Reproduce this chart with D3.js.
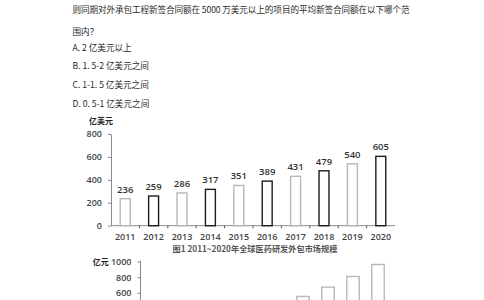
<!DOCTYPE html>
<html>
<head>
<meta charset="utf-8">
<script src="https://cdn.jsdelivr.net/npm/d3@7"></script>
<style>
  body { margin: 0; background: #fff; }
  svg { display: block; }
</style>
</head>
<body>
<div id="chart"></div>
<script>
// question text above the charts
const questionLines = [
    '则同期对外承包工程新签合同额在 5000 万美元以上的项目的平均新签合同额在以下哪个范',
    '围内？',
    'A. 2 亿美元以上',
    'B. 1. 5-2 亿美元之间',
    'C. 1-1. 5 亿美元之间',
    'D. 0. 5-1 亿美元之间'
];
const questionY = [12.5, 35, 50.5, 69, 88, 107];

// figure 1: global pharma R&D outsourcing market (亿美元)
const years = ['2011', '2012', '2013', '2014', '2015', '2016', '2017', '2018', '2019', '2020'];
const marketUSD = [236, 259, 286, 317, 351, 389, 431, 479, 540, 605];
const yTicks1 = [0, 200, 400, 600, 800];

// figure 2: second chart, mostly cut off (亿元)
const marketCNY = [190, 230, 270, 320, 370, 450, 554, 673, 809, 962];
const yTicks2 = [600, 800, 1000];

const svg = d3.select('#chart').append('svg')
    .attr('width', 484)
    .attr('height', 300);

const cjk = '"Noto Sans CJK SC", "Noto Sans", sans-serif';
const num = '"Open Sans", "Noto Sans", sans-serif';

svg.append('g')
    .selectAll('text')
    .data(questionLines)
    .join('text')
    .attr('x', 72.5)
    .attr('y', (d, i) => questionY[i])
    .attr('font-family', cjk)
    .attr('font-size', 8.6)
    .attr('fill', '#2a2a2a')
    .text(d => d)
    .each(function(d, i) {
        if (i === 0) d3.select(this).attr('textLength', 337).attr('lengthAdjust', 'spacing');
    });

function barChart(opts) {
    const g = svg.append('g');
    const x = d3.scaleBand()
        .domain(years)
        .range([opts.left, opts.right])
        .paddingInner(opts.padIn)
        .paddingOuter(opts.padIn / 2);
    const y = d3.scaleLinear()
        .domain([0, opts.max])
        .range([opts.bottom, opts.top]);

    const yAxis = g.append('g')
        .attr('transform', `translate(${opts.left},0)`)
        .call(d3.axisLeft(y)
            .tickValues(opts.ticks)
            .tickFormat(d3.format('d'))
            .tickSize(3)
            .tickPadding(6)
            .tickSizeOuter(0));
    yAxis.select('.domain').attr('stroke', '#8a8a8a').attr('stroke-width', 1);
    yAxis.selectAll('.tick line').attr('stroke', '#8a8a8a');
    yAxis.selectAll('.tick text')
        .attr('font-family', num)
        .attr('font-weight', 600)
        .attr('font-size', 9)
        .attr('fill', '#444');

    // baseline
    g.append('line')
        .attr('x1', opts.left).attr('x2', opts.right)
        .attr('y1', y(0)).attr('y2', y(0))
        .attr('stroke', '#8a8a8a');

    // little ticks between the categories
    g.append('g')
        .selectAll('line')
        .data(years.slice(0, -1))
        .join('line')
        .attr('x1', d => x(d) + x.bandwidth() / 2 + x.step() / 2)
        .attr('x2', d => x(d) + x.bandwidth() / 2 + x.step() / 2)
        .attr('y1', y(0))
        .attr('y2', y(0) + 2.5)
        .attr('stroke', '#555');

    g.append('g')
        .selectAll('rect')
        .data(opts.values)
        .join('rect')
        .attr('x', (d, i) => x(years[i]))
        .attr('y', d => y(d))
        .attr('width', x.bandwidth())
        .attr('height', d => y(0) - y(d))
        .attr('fill', '#fff')
        .attr('stroke', (d, i) => opts.color(i))
        .attr('stroke-width', 1.4);

    return {g, x, y, yAxis};
}

// figure 1
const c1 = barChart({
    left: 111, right: 395, top: 134, bottom: 225.7, max: 800,
    padIn: 0.65, ticks: yTicks1, values: marketUSD,
    color: i => i % 2 ? '#1c1c1c' : '#b8b8b8'
});

c1.g.append('g')
    .selectAll('text')
    .data(marketUSD)
    .join('text')
    .attr('x', (d, i) => c1.x(years[i]) + c1.x.bandwidth() / 2)
    .attr('y', d => c1.y(d) - 6)
    .attr('text-anchor', 'middle')
    .attr('font-family', num)
    .attr('font-weight', 600)
    .attr('font-size', 9.5)
    .attr('fill', '#333')
    .text(d => d);

c1.g.append('g')
    .selectAll('text')
    .data(years)
    .join('text')
    .attr('x', d => c1.x(d) + c1.x.bandwidth() / 2)
    .attr('y', 239.5)
    .attr('text-anchor', 'middle')
    .attr('font-family', num)
    .attr('font-weight', 600)
    .attr('font-size', 9)
    .attr('fill', '#444')
    .text(d => d);

svg.append('text')
    .attr('x', 89)
    .attr('y', 124)
    .attr('font-family', cjk)
    .attr('font-weight', 700)
    .attr('font-size', 8)
    .attr('fill', '#222')
    .text('亿美元');

svg.append('text')
    .attr('x', 255)
    .attr('y', 251.5)
    .attr('text-anchor', 'middle')
    .attr('font-family', cjk)
    .attr('font-weight', 700)
    .attr('font-size', 8.2)
    .attr('fill', '#555')
    .text('图1  2011~2020年全球医药研发外包市场规模');

// figure 2 (only the top shows)
const c2 = barChart({
    left: 140.5, right: 390.5, top: 261.5, bottom: 339.8, max: 1000,
    padIn: 0.5, ticks: yTicks2, values: marketCNY,
    color: () => '#b8b8b8'
});
c2.yAxis.select('.domain').attr('d', `M0,${c2.y(1000) - 1}V${c2.y(0)}`);

svg.append('text')
    .attr('x', 92.7)
    .attr('y', 264.5)
    .attr('font-family', cjk)
    .attr('font-weight', 700)
    .attr('font-size', 8)
    .attr('fill', '#222')
    .text('亿元');
</script>
</body>
</html>
